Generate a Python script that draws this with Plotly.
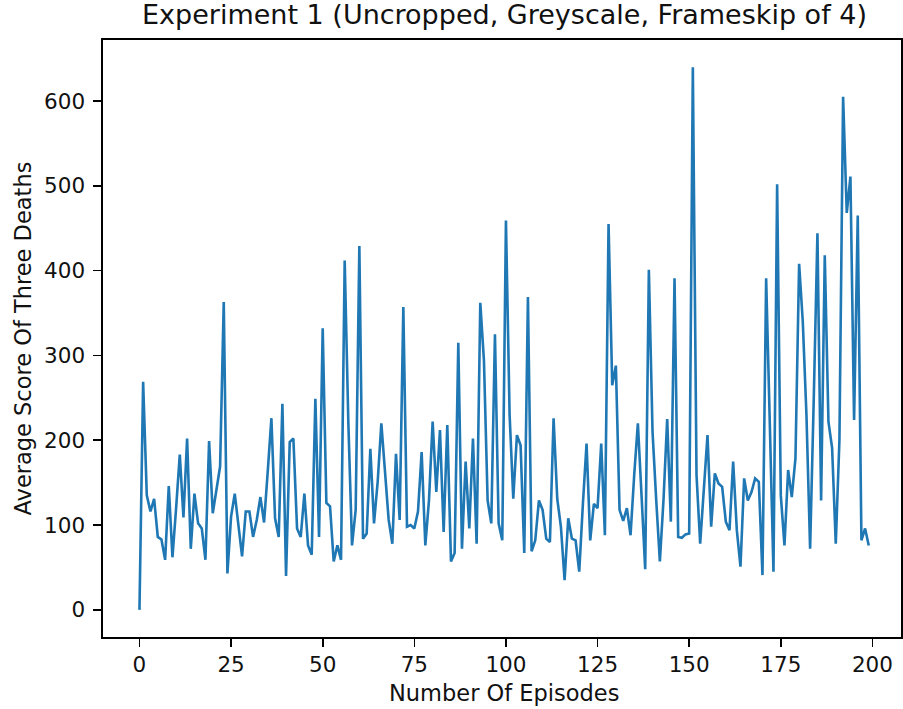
import plotly.graph_objects as go

episodes = list(range(200))
avg_scores = [
    0, 269, 135, 116, 131, 86, 83, 59, 146, 62,
    120, 183, 109, 202, 72, 137, 102, 96, 59, 199,
    114, 143, 169, 363, 43, 110, 137, 100, 63, 116,
    116, 86, 106, 133, 103, 163, 226, 108, 86, 243,
    40, 198, 202, 96, 86, 137, 76, 65, 249, 86,
    332, 126, 122, 57, 76, 59, 412, 220, 76, 118,
    429, 84, 90, 190, 102, 151, 220, 163, 106, 78,
    184, 106, 357, 98, 100, 96, 116, 186, 76, 129,
    222, 139, 212, 92, 218, 57, 67, 315, 72, 175,
    96, 202, 78, 362, 294, 129, 102, 325, 102, 82,
    459, 230, 131, 206, 194, 67, 369, 69, 82, 129,
    118, 84, 80, 226, 131, 98, 35, 108, 84, 82,
    45, 125, 196, 82, 125, 120, 196, 88, 455, 265,
    288, 118, 105, 120, 88, 159, 220, 135, 48, 401,
    210, 130, 57, 130, 225, 104, 391, 86, 85, 89,
    90, 640, 159, 78, 143, 206, 98, 161, 149, 145,
    104, 94, 175, 94, 51, 155, 129, 139, 155, 151,
    41, 391, 220, 45, 502, 135, 76, 165, 133, 179,
    408, 340, 230, 72, 250, 444, 129, 418, 222, 191,
    78, 200, 605, 468, 511, 224, 465, 82, 96, 76,
]
x_ticks = [0, 25, 50, 75, 100, 125, 150, 175, 200]
y_ticks = [0, 100, 200, 300, 400, 500, 600]

title_text = "Experiment 1 (Uncropped, Greyscale, Frameskip of 4)"
x_label = "Number Of Episodes"
y_label = "Average Score Of Three Deaths"

FONT = "DejaVu Sans"
TEXT = "#111111"

fig = go.Figure(
    go.Scatter(
        x=episodes, y=avg_scores, mode="lines",
        line=dict(color="#1f77b4", width=2.6),
        hoverinfo="skip",
    )
)

axis_common = dict(
    showgrid=False, zeroline=False, showline=True, linecolor="black",
    linewidth=1.6, mirror=True, ticks="outside", ticklen=8, tickwidth=1.6,
    tickcolor="black", tickfont=dict(family=FONT, size=21.5, color=TEXT),
)

fig.update_layout(
    width=903, height=709,
    margin=dict(l=103, r=0, t=40, b=72, pad=0),
    paper_bgcolor="white", plot_bgcolor="white",
    showlegend=False,
    xaxis=dict(range=[-9.95, 207.8], tickvals=x_ticks, **axis_common),
    yaxis=dict(range=[-32, 672], tickvals=y_ticks, ticklabelstandoff=4,
               **axis_common),
    annotations=[
        dict(text=title_text, xref="paper", yref="paper", x=0.5028, y=1,
             yshift=26, xanchor="center", yanchor="middle", showarrow=False,
             font=dict(family=FONT, size=27, color=TEXT)),
        dict(text=x_label, xref="paper", yref="paper", x=0.5028, y=0,
             yshift=-56, xanchor="center", yanchor="middle", showarrow=False,
             font=dict(family=FONT, size=22.5, color=TEXT)),
        dict(text=y_label, xref="paper", yref="paper", x=0, y=0.5,
             xshift=-81, xanchor="center", yanchor="middle", showarrow=False,
             textangle=-90,
             font=dict(family=FONT, size=22.5, color=TEXT)),
    ],
)

fig.write_html(
    "out.html",
    config={"displayModeBar": False, "staticPlot": True},
    post_script="document.body.style.margin='0';document.body.style.overflow='hidden';",
)
